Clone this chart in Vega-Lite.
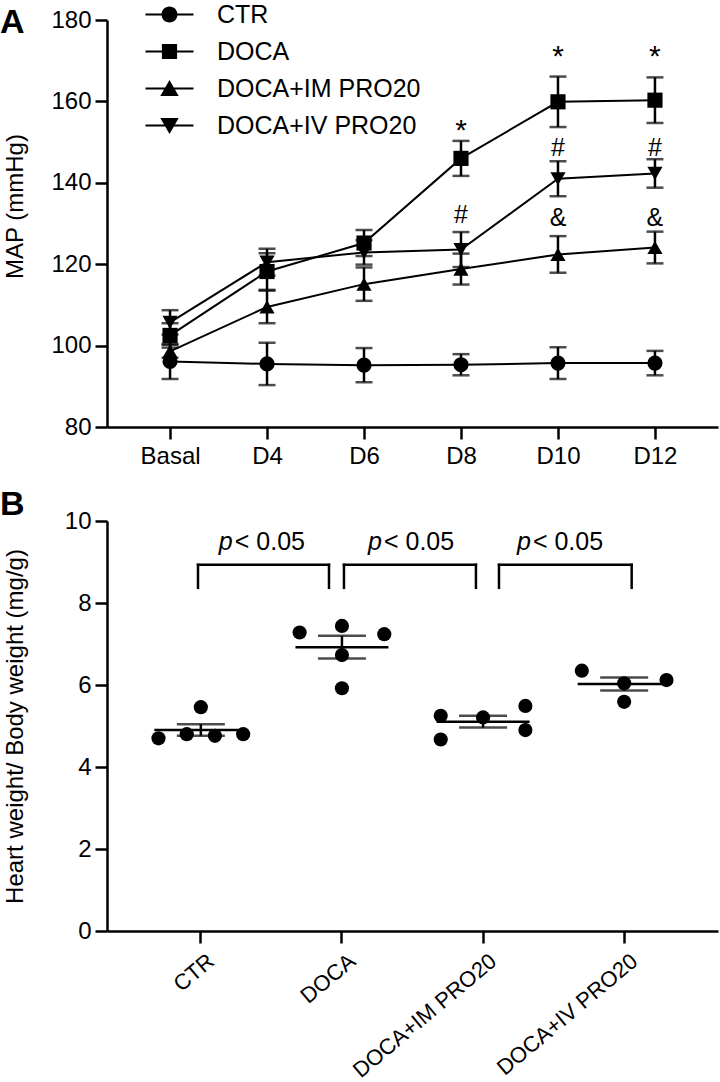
{
  "$schema": "https://vega.github.io/schema/vega-lite/v6.json",
  "background": "white",
  "padding": {"left": 0, "top": 2, "right": 2, "bottom": 0},
  "spacing": 20,
  "config": {
    "font": "Liberation Sans",
    "view": {"stroke": null},
    "axis": {
      "domainColor": "black", "domainWidth": 2.5, "tickColor": "black", "tickWidth": 2.5, "tickSize": 12,
      "labelColor": "black", "labelFontSize": 24, "labelFont": "Liberation Sans", "labelPadding": 4, "labelLimit": 400,
      "titleColor": "black", "titleFontSize": 24, "titleFont": "Liberation Sans", "titleFontWeight": "normal",
      "grid": false
    },
    "title": {"font": "Liberation Sans", "fontSize": 34, "fontWeight": "bold", "color": "black", "anchor": "start", "frame": "group"}
  },
  "datasets": {
    "map": [
      {"group": "CTR", "day": "Basal", "mean": 96.1, "sem": 4.3},
      {"group": "CTR", "day": "D4", "mean": 95.5, "sem": 5.2},
      {"group": "CTR", "day": "D6", "mean": 95.2, "sem": 4.2},
      {"group": "CTR", "day": "D8", "mean": 95.3, "sem": 2.6},
      {"group": "CTR", "day": "D10", "mean": 95.7, "sem": 3.9},
      {"group": "CTR", "day": "D12", "mean": 95.7, "sem": 3.0},
      {"group": "DOCA", "day": "Basal", "mean": 102.5, "sem": 3.0},
      {"group": "DOCA", "day": "D4", "mean": 118.2, "sem": 4.5},
      {"group": "DOCA", "day": "D6", "mean": 125.2, "sem": 3.2},
      {"group": "DOCA", "day": "D8", "mean": 146.0, "sem": 4.3},
      {"group": "DOCA", "day": "D10", "mean": 159.9, "sem": 6.2},
      {"group": "DOCA", "day": "D12", "mean": 160.3, "sem": 5.6},
      {"group": "DOCA+IM PRO20", "day": "Basal", "mean": 98.6, "sem": 1.6},
      {"group": "DOCA+IM PRO20", "day": "D4", "mean": 109.5, "sem": 4.0},
      {"group": "DOCA+IM PRO20", "day": "D6", "mean": 115.1, "sem": 4.1},
      {"group": "DOCA+IM PRO20", "day": "D8", "mean": 118.8, "sem": 3.8},
      {"group": "DOCA+IM PRO20", "day": "D10", "mean": 122.4, "sem": 4.5},
      {"group": "DOCA+IM PRO20", "day": "D12", "mean": 124.1, "sem": 3.9},
      {"group": "DOCA+IV PRO20", "day": "Basal", "mean": 105.7, "sem": 3.0},
      {"group": "DOCA+IV PRO20", "day": "D4", "mean": 120.5, "sem": 3.3},
      {"group": "DOCA+IV PRO20", "day": "D6", "mean": 122.9, "sem": 3.0},
      {"group": "DOCA+IV PRO20", "day": "D8", "mean": 123.6, "sem": 4.3},
      {"group": "DOCA+IV PRO20", "day": "D10", "mean": 141.0, "sem": 4.3},
      {"group": "DOCA+IV PRO20", "day": "D12", "mean": 142.3, "sem": 3.5}
    ],
    "mapMarks": [
      {"day": "D8", "y": 150.6, "label": "*"},
      {"day": "D10", "y": 168.6, "label": "*"},
      {"day": "D12", "y": 168.6, "label": "*"},
      {"day": "D8", "y": 130.2, "label": "#"},
      {"day": "D10", "y": 146.5, "label": "#"},
      {"day": "D12", "y": 146.5, "label": "#"},
      {"day": "D10", "y": 129.3, "label": "&"},
      {"day": "D12", "y": 129.3, "label": "&"}
    ],
    "hw": [
      {"group": "CTR", "col": "3", "hw": 4.70},
      {"group": "CTR", "col": "5", "hw": 4.80},
      {"group": "CTR", "col": "7", "hw": 4.76},
      {"group": "CTR", "col": "9", "hw": 4.80},
      {"group": "CTR", "col": "6", "hw": 5.46},
      {"group": "DOCA", "col": "3", "hw": 7.28},
      {"group": "DOCA", "col": "6", "hw": 7.44},
      {"group": "DOCA", "col": "9", "hw": 7.24},
      {"group": "DOCA", "col": "6", "hw": 6.73},
      {"group": "DOCA", "col": "6", "hw": 5.92},
      {"group": "DOCA+IM PRO20", "col": "3", "hw": 5.25},
      {"group": "DOCA+IM PRO20", "col": "3", "hw": 4.67},
      {"group": "DOCA+IM PRO20", "col": "6", "hw": 5.21},
      {"group": "DOCA+IM PRO20", "col": "9", "hw": 5.49},
      {"group": "DOCA+IM PRO20", "col": "9", "hw": 4.90},
      {"group": "DOCA+IV PRO20", "col": "3", "hw": 6.35},
      {"group": "DOCA+IV PRO20", "col": "6", "hw": 6.04},
      {"group": "DOCA+IV PRO20", "col": "9", "hw": 6.12},
      {"group": "DOCA+IV PRO20", "col": "6", "hw": 5.59}
    ],
    "brackets": [
      {"x1": -0.021, "x2": 0.906, "top": 8.93, "tip": 8.37, "tx": 0.232, "ty": 9.29, "pl": "p", "stat": "< 0.05"},
      {"x1": 1.012, "x2": 1.946, "top": 8.93, "tip": 8.37, "tx": 1.288, "ty": 9.29, "pl": "p", "stat": "< 0.05"},
      {"x1": 2.109, "x2": 3.048, "top": 8.93, "tip": 8.37, "tx": 2.342, "ty": 9.29, "pl": "p", "stat": "< 0.05"}
    ]
  },
  "vconcat": [
    {
      "width": 611,
      "height": 407,
      "title": {"text": "A", "dx": -107, "offset": -38},
      "encoding": {
        "x": {"field": "day", "type": "nominal", "sort": ["Basal", "D4", "D6", "D8", "D10", "D12"], "scale": {"type": "point", "padding": 0.65}, "axis": {"title": null, "labelAngle": 0, "labelPadding": 5}}
      },
      "layer": [
        {
          "data": {"name": "map"},
          "mark": {"type": "line", "color": "black", "strokeWidth": 2},
          "encoding": {
            "y": {"field": "mean", "type": "quantitative", "title": "MAP (mmHg)", "scale": {"domain": [80, 180], "nice": false, "zero": false}, "axis": {"values": [80, 100, 120, 140, 160, 180], "titleX": -85, "titleY": 186, "titleBaseline": "alphabetic"}},
            "detail": {"field": "group"}
          }
        },
        {
          "data": {"name": "map"},
          "mark": {"type": "errorbar", "color": "black", "thickness": 2.5, "size": 17, "ticks": {"size": 17, "thickness": 2.5, "color": "black"}},
          "encoding": {
            "y": {"field": "mean", "type": "quantitative", "title": "MAP (mmHg)"},
            "yError": {"field": "sem"},
            "detail": {"field": "group"}
          }
        },
        {
          "data": {"name": "map"},
          "mark": {"type": "point", "filled": true, "color": "black", "opacity": 1, "size": 230},
          "encoding": {
            "y": {"field": "mean", "type": "quantitative", "title": "MAP (mmHg)"},
            "shape": {"field": "group", "type": "nominal", "scale": {"domain": ["CTR", "DOCA", "DOCA+IM PRO20", "DOCA+IV PRO20"], "range": ["circle", "square", "triangle-up", "triangle-down"]}, "legend": null}
          }
        },
        {
          "data": {"name": "map"},
          "transform": [{"filter": "datum.mean < 0"}],
          "mark": {"type": "point", "filled": true, "color": "black", "opacity": 1},
          "encoding": {
            "y": {"field": "mean", "type": "quantitative", "title": "MAP (mmHg)"},
            "shape": {
              "field": "group", "type": "nominal",
              "scale": {"domain": ["CTR", "DOCA", "DOCA+IM PRO20", "DOCA+IV PRO20"], "range": [
                "M-3,-0.13H3V0.13H-3Z M-1,0A1,1,0,1,1,1,0A1,1,0,1,1,-1,0Z",
                "M-3,-0.13H3V0.13H-3Z M-0.95,-0.95H0.95V0.95H-0.95Z",
                "M-3,-0.13H3V0.13H-3Z M0,-1.05L1.15,0.95H-1.15Z",
                "M-3,-0.13H3V0.13H-3Z M0,1.05L-1.15,-0.95H1.15Z"
              ]},
              "legend": {"orient": "none", "legendX": 50, "legendY": -18, "title": null, "labelFontSize": 25, "labelColor": "black", "labelFont": "Liberation Sans", "labelLimit": 400, "symbolSize": 256, "symbolFillColor": "black", "symbolStrokeWidth": 0, "labelOffset": 35, "rowPadding": 11, "padding": 0}
            }
          }
        },
        {
          "data": {"name": "mapMarks"},
          "transform": [{"filter": "datum.label == '*'"}],
          "mark": {"type": "text", "fontSize": 30, "color": "black", "baseline": "alphabetic"},
          "encoding": {
            "y": {"field": "y", "type": "quantitative", "title": "MAP (mmHg)"},
            "text": {"field": "label"}
          }
        },
        {
          "data": {"name": "mapMarks"},
          "transform": [{"filter": "datum.label != '*'"}],
          "mark": {"type": "text", "fontSize": 25, "color": "black", "baseline": "alphabetic"},
          "encoding": {
            "y": {"field": "y", "type": "quantitative", "title": "MAP (mmHg)"},
            "text": {"field": "label"}
          }
        }
      ],
      "resolve": {"scale": {"shape": "independent"}}
    },
    {
      "width": 611,
      "height": 410,
      "title": {"text": "B", "dx": -107, "offset": -13},
      "layer": [
        {
          "data": {"name": "hw"},
          "encoding": {
            "x": {"field": "group", "type": "nominal", "sort": ["CTR", "DOCA", "DOCA+IM PRO20", "DOCA+IV PRO20"], "scale": {"type": "band", "paddingInner": 0, "paddingOuter": 0.165}, "axis": {"title": null, "labelAngle": -40, "labelPadding": 7, "labelOffset": 4, "labelFontSize": 22}}
          },
          "layer": [
            {
              "mark": {"type": "circle", "color": "black", "opacity": 1, "size": 201},
              "encoding": {
                "xOffset": {"field": "col", "type": "nominal", "scale": {"domain": ["1", "2", "3", "4", "5", "6", "7", "8", "9", "10", "11"], "paddingInner": 0, "paddingOuter": 0}},
                "y": {"field": "hw", "type": "quantitative", "title": "Heart weight/ Body weight (mg/g)", "scale": {"domain": [0, 10], "nice": false}, "axis": {"values": [0, 2, 4, 6, 8, 10], "titleX": -85, "titleBaseline": "alphabetic"}}
              }
            },
            {
              "mark": {"type": "tick", "color": "black", "thickness": 2.5, "size": 93, "orient": "horizontal"},
              "encoding": {
                "y": {"aggregate": "mean", "field": "hw", "type": "quantitative", "title": "Heart weight/ Body weight (mg/g)"}
              }
            },
            {
              "mark": {"type": "errorbar", "extent": "stderr", "color": "black", "thickness": 2.5, "size": 48, "ticks": {"size": 48, "thickness": 2.5, "color": "black"}},
              "encoding": {
                "y": {"field": "hw", "type": "quantitative", "title": "Heart weight/ Body weight (mg/g)"}
              }
            }
          ]
        },
        {
          "data": {"name": "brackets"},
          "layer": [
            {
              "mark": {"type": "rule", "color": "black", "strokeWidth": 2.5, "strokeCap": "square"},
              "encoding": {
                "x": {"field": "x1", "type": "quantitative", "scale": {"domain": [-0.665, 3.659], "nice": false, "zero": false}, "axis": null},
                "x2": {"field": "x2"},
                "y": {"field": "top", "type": "quantitative", "title": "Heart weight/ Body weight (mg/g)"}
              }
            },
            {
              "mark": {"type": "rule", "color": "black", "strokeWidth": 2.5, "strokeCap": "square"},
              "encoding": {
                "x": {"field": "x1", "type": "quantitative"},
                "y": {"field": "tip", "type": "quantitative", "title": "Heart weight/ Body weight (mg/g)"},
                "y2": {"field": "top"}
              }
            },
            {
              "mark": {"type": "rule", "color": "black", "strokeWidth": 2.5, "strokeCap": "square"},
              "encoding": {
                "x": {"field": "x2", "type": "quantitative"},
                "y": {"field": "tip", "type": "quantitative", "title": "Heart weight/ Body weight (mg/g)"},
                "y2": {"field": "top"}
              }
            },
            {
              "mark": {"type": "text", "fontSize": 25, "fontStyle": "italic", "color": "black", "align": "right", "baseline": "alphabetic", "dx": -1},
              "encoding": {
                "x": {"field": "tx", "type": "quantitative"},
                "y": {"field": "ty", "type": "quantitative", "title": "Heart weight/ Body weight (mg/g)"},
                "text": {"field": "pl"}
              }
            },
            {
              "mark": {"type": "text", "fontSize": 25, "color": "black", "align": "left", "baseline": "alphabetic", "dx": 1},
              "encoding": {
                "x": {"field": "tx", "type": "quantitative"},
                "y": {"field": "ty", "type": "quantitative", "title": "Heart weight/ Body weight (mg/g)"},
                "text": {"field": "stat"}
              }
            }
          ]
        }
      ],
      "resolve": {"scale": {"x": "independent"}}
    }
  ]
}
